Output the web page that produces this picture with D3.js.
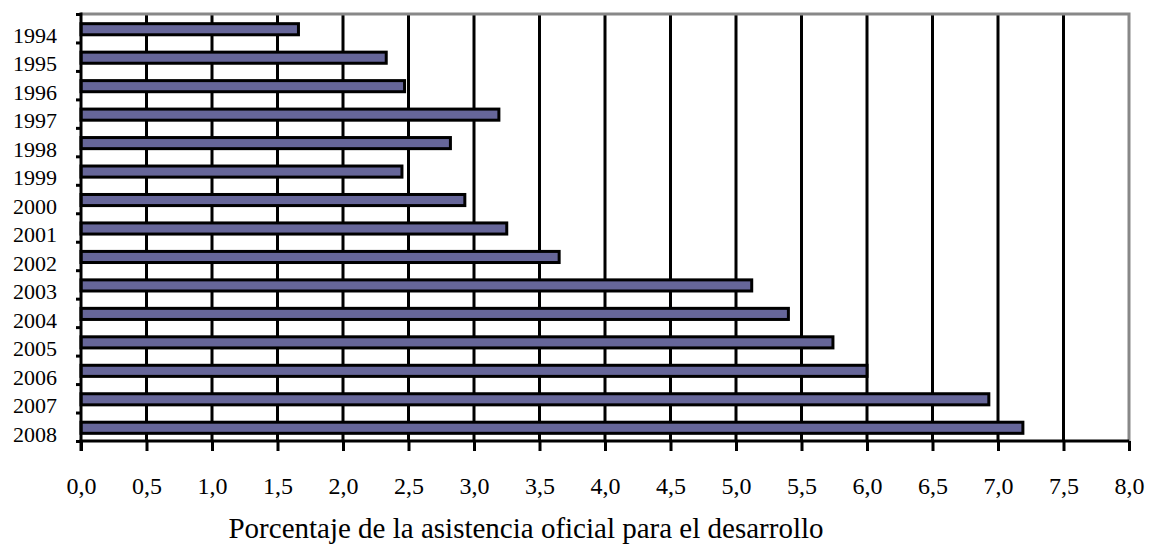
<!DOCTYPE html>
<html>
<head>
<meta charset="utf-8">
<script src="https://cdn.jsdelivr.net/npm/d3@7"></script>
<style>
  body { margin: 0; background: #fff; }
</style>
</head>
<body>
<div id="graph"></div>
<script>
// data
const years = ["1994","1995","1996","1997","1998","1999","2000","2001","2002","2003","2004","2005","2006","2007","2008"];
const values = [1.66, 2.33, 2.47, 3.19, 2.82, 2.45, 2.93, 3.25, 3.65, 5.12, 5.40, 5.74, 6.00, 6.93, 7.19];
const xTicks = [0,0.5,1,1.5,2,2.5,3,3.5,4,4.5,5,5.5,6,6.5,7,7.5,8];
const axisTitle = "Porcentaje de la asistencia oficial para el desarrollo";

const FONT = "Liberation Serif, Times New Roman, serif";
const width = 1150, height = 544;
const plot = { left: 81, right: 1129, top: 14, bottom: 441 };

const svg = d3.select("#graph").append("svg")
  .attr("width", width)
  .attr("height", height);

const x = d3.scaleLinear().domain([0, 8]).range([plot.left, plot.right]);
const y = d3.scaleBand().domain(years)
  .range([plot.top, plot.bottom])
  .paddingInner(0.61)
  .paddingOuter(0.305);
// boundaries between categories, for the little tick marks
const yEdge = d3.scaleLinear().domain([0, years.length]).range([plot.top, plot.bottom]);

// vertical gridlines (black), last one is the grey frame
svg.append("g").selectAll("line")
  .data(xTicks.filter(d => d > 0 && d < 8))
  .join("line")
  .attr("x1", d => x(d)).attr("x2", d => x(d))
  .attr("y1", plot.top).attr("y2", plot.bottom)
  .attr("stroke", "#000").attr("stroke-width", 3);

// grey frame top + right
svg.append("path")
  .attr("d", `M${plot.left},${plot.top}H${plot.right}V${plot.bottom}`)
  .attr("fill", "none").attr("stroke", "#888").attr("stroke-width", 3);

// bars
svg.append("g").selectAll("rect")
  .data(years.map((yr, i) => ({ yr, v: values[i] })))
  .join("rect")
  .attr("x", x(0))
  .attr("y", d => y(d.yr) + 1)
  .attr("width", d => x(d.v) - x(0))
  .attr("height", y.bandwidth())
  .attr("fill", "#666699")
  .attr("stroke", "#000")
  .attr("stroke-width", 3);

// bottom axis
const xAxis = svg.append("g")
  .attr("transform", `translate(0,${plot.bottom})`)
  .call(d3.axisBottom(x).tickValues(xTicks).tickSize(10).tickPadding(26)
    .tickFormat(d => d.toFixed(1).replace(".", ",")));
xAxis.select(".domain").attr("stroke-width", 3).attr("d", `M${plot.left - 1.5},0H${plot.right}`);
xAxis.selectAll(".tick line").attr("stroke-width", 3);
xAxis.selectAll(".tick text")
  .style("font-family", FONT)
  .style("font-size", "24px");

// left axis: tick marks on category boundaries
const yTickAxis = svg.append("g")
  .attr("transform", `translate(${plot.left},0)`)
  .call(d3.axisLeft(yEdge).tickValues(d3.range(years.length + 1)).tickSize(5).tickFormat(""));
yTickAxis.select(".domain").attr("stroke-width", 3).attr("d", `M0,${plot.top - 1.5}V${plot.bottom + 10}`);
yTickAxis.selectAll(".tick line").attr("stroke-width", 3);

// left axis labels, baseline on the lower boundary
const yLab = svg.append("g")
  .attr("transform", `translate(${plot.left},0)`)
  .call(d3.axisLeft(y).tickSize(0).tickPadding(24));
yLab.select(".domain").remove();
yLab.selectAll(".tick text")
  .style("font-family", FONT)
  .style("font-size", "22px")
  .attr("dy", y.step() / 2 + 0.5);

// axis title
svg.append("text")
  .attr("x", 526)
  .attr("y", 538)
  .attr("text-anchor", "middle")
  .style("font-family", FONT)
  .style("font-size", "29px")
  .text(axisTitle);
</script>
</body>
</html>
